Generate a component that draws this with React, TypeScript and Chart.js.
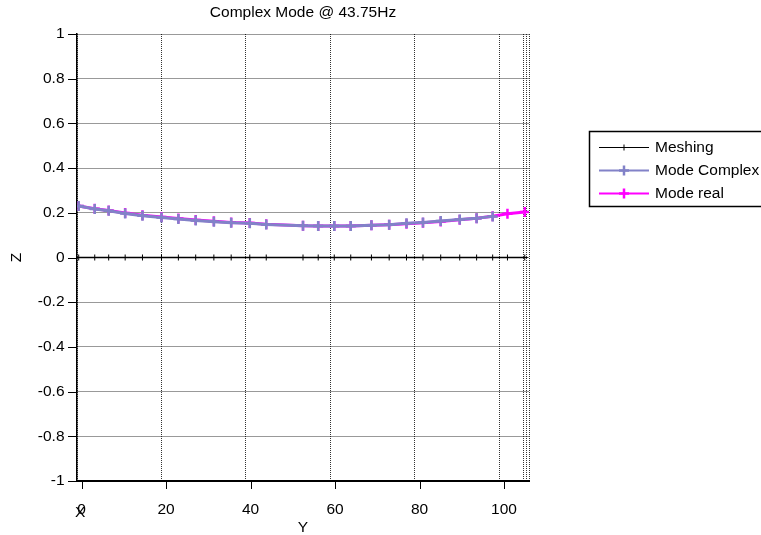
import React, { useEffect, useRef } from 'react';
import { Chart, registerables } from 'chart.js';

Chart.register(...registerables);

// ---- text ----
const TITLE = 'Complex Mode @ 43.75Hz';
const X_TITLE = 'Y';
const Y_TITLE = 'Z';
const CORNER_LABEL = 'X';

// ---- data (x in plot units, 0 = left frame) ----
const meshX = [0.4, 4.2, 7.5, 11.4, 15.5, 20.0, 24.0, 28.1, 32.4, 36.5, 40.9, 44.8, 53.5, 57.1, 60.9, 64.8, 69.7, 73.9, 78.0, 81.9, 86.1, 90.6, 94.6, 98.4, 101.9, 106.0];
const meshZ = [0, 0, 0, 0, 0, 0, 0, 0, 0, 0, 0, 0, 0, 0, 0, 0, 0, 0, 0, 0, 0, 0, 0, 0, 0, 0];
const complexZ = [0.230, 0.217, 0.209, 0.197, 0.187, 0.179, 0.172, 0.166, 0.160, 0.155, 0.153, 0.148, 0.142, 0.141, 0.141, 0.141, 0.144, 0.147, 0.153, 0.157, 0.163, 0.170, 0.176, 0.184];
const realZ = [0.230, 0.218, 0.210, 0.199, 0.189, 0.181, 0.174, 0.168, 0.162, 0.157, 0.154, 0.149, 0.142, 0.141, 0.141, 0.141, 0.144, 0.147, 0.151, 0.155, 0.161, 0.169, 0.176, 0.185, 0.196, 0.204];

const xTickValues = [0, 20, 40, 60, 80, 100];
const xExtraGrid = [105.7, 106.3, 107];
const X_MIN = 0;
const X_MAX = 107;
const Y_MIN = -1;
const Y_MAX = 1;
const Y_STEP = 0.2;

const FONT = '"Liberation Sans", Arial, sans-serif';
const FS = 15.5;

export default function App() {
  const ref = useRef<HTMLCanvasElement>(null);

  useEffect(() => {
    const canvas = ref.current!;
    const LABEL_SHIFT = 4.6;

    const overlay = {
      id: 'overlay',
      afterDraw(chart: any) {
        const ctx = chart.ctx as CanvasRenderingContext2D;
        const xs = chart.scales.x;
        const ys = chart.scales.y;
        const area = chart.chartArea;
        ctx.save();
        // tick marks
        ctx.strokeStyle = '#000';
        ctx.lineWidth = 1;
        ctx.setLineDash([]);
        ctx.beginPath();
        for (const v of xTickValues) {
          const px = Math.round(xs.getPixelForValue(v) + LABEL_SHIFT) + 0.5;
          ctx.moveTo(px, area.bottom);
          ctx.lineTo(px, area.bottom + 8);
        }
        ys.ticks.forEach((t: any) => {
          const py = Math.round(ys.getPixelForValue(t.value)) + 0.5;
          ctx.moveTo(area.left - 9, py);
          ctx.lineTo(area.left, py);
        });
        ctx.stroke();

        // title
        ctx.fillStyle = '#000';
        ctx.font = `${FS}px ${FONT}`;
        ctx.textAlign = 'center';
        ctx.textBaseline = 'middle';
        ctx.fillText(TITLE, (area.left + area.right) / 2, 13);

        // corner label
        ctx.fillText(CORNER_LABEL, xs.getPixelForValue(0) + LABEL_SHIFT - 1.5, 513);

        // legend
        const bx = 589.5, by = 131.5, bw = 200, bh = 75;
        ctx.lineWidth = 1.5;
        ctx.strokeStyle = '#000';
        ctx.strokeRect(bx, by, bw, bh);
        ctx.textAlign = 'left';
        chart.data.datasets.forEach((ds: any, i: number) => {
          const cy = 147.5 + i * 23;
          ctx.strokeStyle = ds.borderColor;
          ctx.lineWidth = ds.legendLineWidth;
          ctx.beginPath();
          ctx.moveTo(599, cy);
          ctx.lineTo(649, cy);
          ctx.stroke();
          const r = ds.pointRadius;
          ctx.lineWidth = ds.pointBorderWidth;
          ctx.beginPath();
          ctx.moveTo(624, cy - r);
          ctx.lineTo(624, cy + r);
          ctx.moveTo(624 - r, cy);
          ctx.lineTo(624 + r, cy);
          ctx.stroke();
          ctx.fillStyle = '#000';
          ctx.fillText(ds.label, 655, cy);
        });
        ctx.restore();
      },
    };

    const chart = new Chart(canvas, {
      type: 'line',
      data: {
        datasets: [
          {
            label: 'Meshing',
            data: meshX.map((x, i) => ({ x, y: meshZ[i] })),
            borderColor: '#000',
            backgroundColor: '#000',
            borderWidth: 1.5,
            pointStyle: 'cross',
            pointRadius: 3,
            pointBorderWidth: 1,
            legendLineWidth: 1,
          } as any,
          {
            label: 'Mode Complex',
            data: complexZ.map((z, i) => ({ x: meshX[i], y: z })),
            borderColor: 'rgb(130,130,200)',
            backgroundColor: 'rgb(130,130,200)',
            borderWidth: 3,
            pointStyle: 'cross',
            pointRadius: 5,
            pointBorderWidth: 2.5,
            legendLineWidth: 2,
          } as any,
          {
            label: 'Mode real',
            data: realZ.map((z, i) => ({ x: meshX[i], y: z })),
            borderColor: '#ff00ff',
            backgroundColor: '#ff00ff',
            borderWidth: 3,
            pointStyle: 'cross',
            pointRadius: 5,
            pointBorderWidth: 2.5,
            legendLineWidth: 2,
          } as any,
        ],
      },
      options: {
        responsive: false,
        animation: false,
        events: [],
        layout: { padding: { left: 0, top: 34, right: 232, bottom: 0 } },
        plugins: {
          legend: { display: false },
          title: { display: false },
          tooltip: { enabled: false },
        },
        scales: {
          x: {
            type: 'linear',
            min: X_MIN,
            max: X_MAX,
            afterBuildTicks: (s: any) => {
              s.ticks = [...xTickValues, ...xExtraGrid].map((v) => ({ value: v }));
            },
            afterFit: (s: any) => {
              s.height = 54;
            },
            ticks: {
              autoSkip: false,
              maxRotation: 0,
              labelOffset: 4.6,
              padding: 19.5,
              color: '#000',
              font: { size: FS, family: FONT },
              callback: (v: any) => (xTickValues.includes(v) ? String(v) : ''),
            },
            grid: { color: 'rgba(0,0,0,0.8)', lineWidth: 1, drawTicks: false },
            border: { display: true, color: '#000', width: 2, dash: [1, 1] },
            title: {
              display: true,
              text: X_TITLE,
              color: '#000',
              font: { size: FS, family: FONT, lineHeight: 1 },
              padding: { top: 0, bottom: 0 },
            },
          },
          y: {
            type: 'linear',
            min: Y_MIN,
            max: Y_MAX,
            afterFit: (s: any) => {
              s.width = 77;
            },
            ticks: {
              stepSize: Y_STEP,
              padding: 12.5,
              color: '#000',
              font: { size: FS, family: FONT },
              callback: (v: any) => String(Math.round(Number(v) * 10) / 10),
            },
            grid: { color: 'rgba(0,0,0,0.8)', lineWidth: 1, drawTicks: false },
            border: { display: true, color: '#000', width: 1.5, dash: [1, 1] },
            title: {
              display: true,
              text: Y_TITLE,
              color: '#000',
              font: { size: FS, family: FONT, lineHeight: 1 },
              padding: { top: 9, bottom: 0 },
            },
          },
        },
      },
      plugins: [overlay],
    } as any);

    return () => chart.destroy();
  }, []);

  return (
    <div style={{ position: 'fixed', left: 0, top: 0, width: 761, height: 535, background: '#fff' }}>
      <canvas ref={ref} width={761} height={535} style={{ display: 'block' }} />
    </div>
  );
}
